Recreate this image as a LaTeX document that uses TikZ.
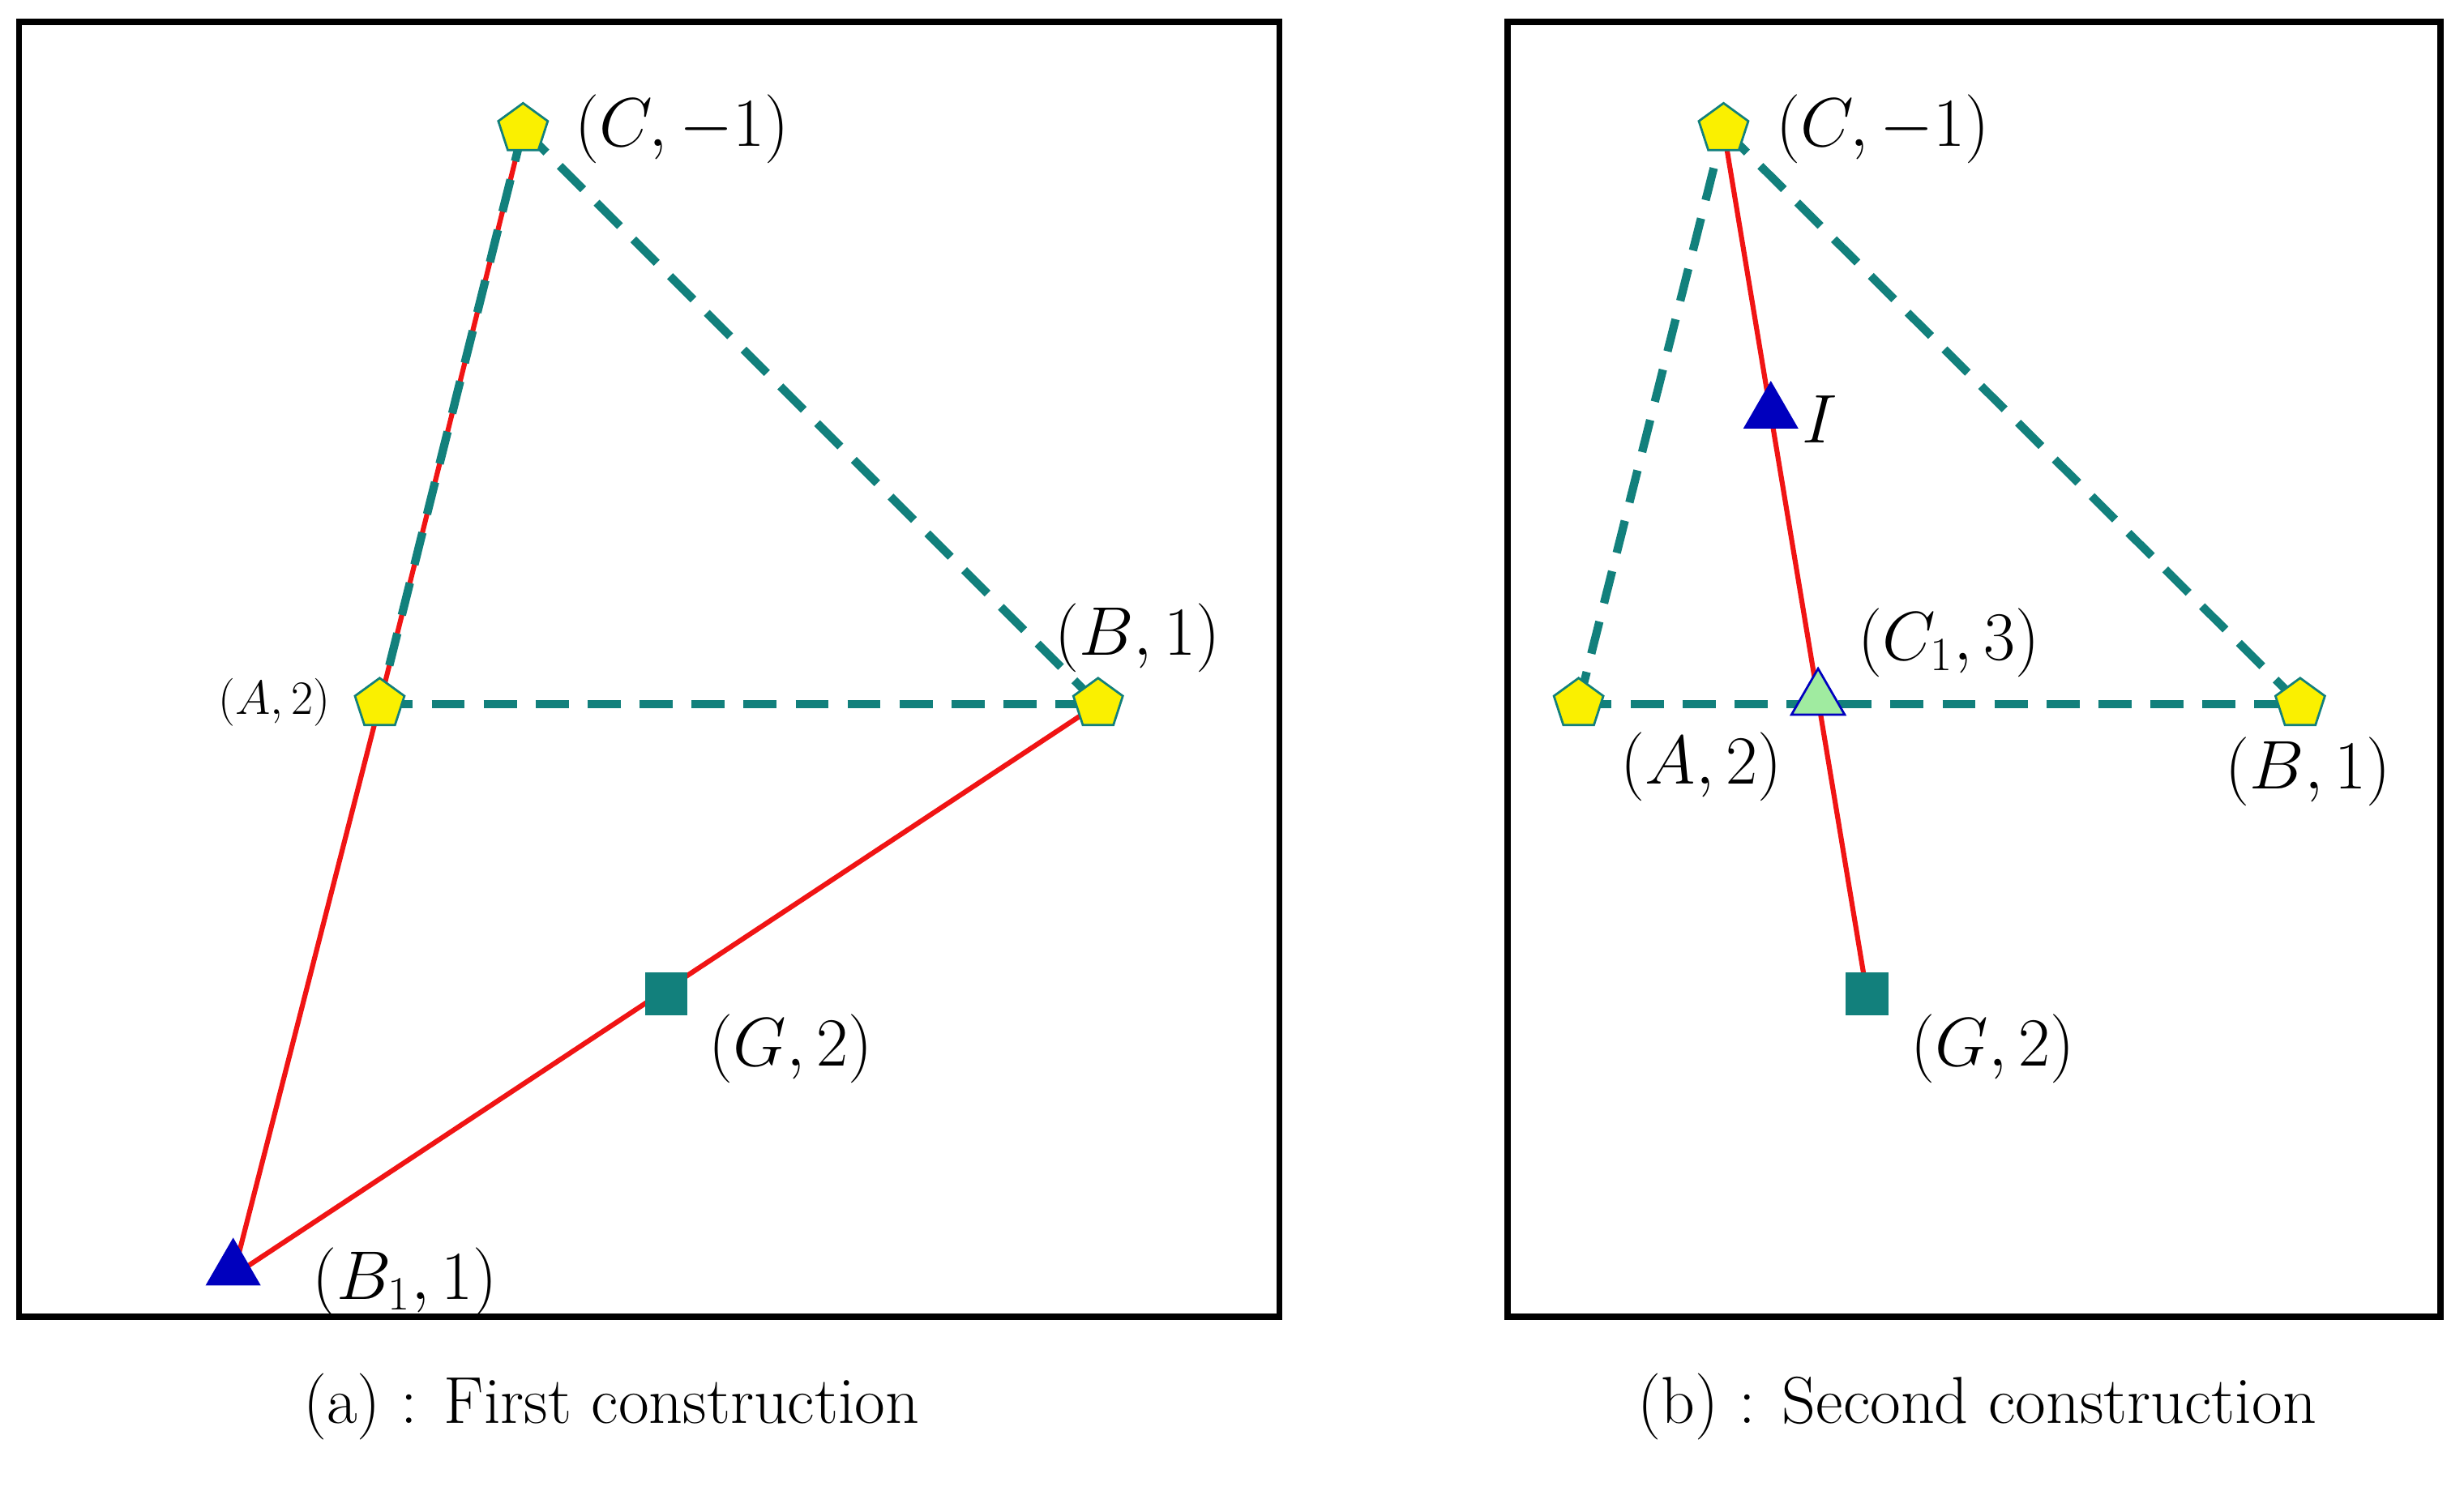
\documentclass[tikz,border=0pt]{standalone}
\usetikzlibrary{shapes.geometric}
\definecolor{tealc}{RGB}{18,128,124}
\definecolor{redc}{RGB}{240,20,20}
\definecolor{bluec}{RGB}{0,0,190}
\definecolor{yelc}{RGB}{250,240,0}
\definecolor{greenc}{RGB}{160,235,160}
\tikzset{
 pent/.style={regular polygon,regular polygon sides=5,fill=yelc,draw=tealc,line width=0.8pt,minimum size=0.66cm,inner sep=0pt},
 tri/.style={regular polygon,regular polygon sides=3,fill=bluec,draw=bluec,minimum size=0.78cm,inner sep=0pt},
 tri2/.style={regular polygon,regular polygon sides=3,fill=greenc,draw=bluec,line width=0.8pt,minimum size=0.78cm,inner sep=0pt},
 sq/.style={rectangle,fill=tealc,minimum size=0.54cm,inner sep=0pt},
 redl/.style={draw=redc,line width=1.8pt},
 dashl/.style={draw=tealc,line width=3pt,dash pattern=on 0.42cm off 0.24cm},
 frame/.style={draw=black,line width=2.2pt},
 lab/.style={font=\fontsize{24}{28}\selectfont,inner sep=0pt},
 captext/.style={font=\fontsize{24}{28}\selectfont,inner sep=0pt}
}
\begin{document}
\begin{tikzpicture}[x=0.02cm,y=-0.02cm]
\useasboundingbox (0,0) rectangle (1564,949);
\draw[frame] (12,14) rectangle (812,836);
\draw[frame] (957,14) rectangle (1549,836);
% left
\coordinate (lC) at (332,82);
\coordinate (lA) at (241,447);
\coordinate (lB) at (697,447);
\coordinate (lG) at (423,631);
\coordinate (lB1) at (148,810);
\draw[redl] (lC) -- (lA) -- (lB1) -- (lB);
\draw[dashl] (lC) -- (lA);
\draw[dashl] (lC) -- (lB);
\draw[dashl] (lA) -- (lB);
\node[pent] (nC) at (lC) {};
\node[pent] (nA) at (lA) {};
\node[pent] (nB) at (lB) {};
\node[sq] (nG) at (lG) {};
\node[tri] (nB1) at (148,806) {};
\node[lab] at (433,82) {$(C,-1)$};
\node[lab] at (722,405) {$(B,1)$};
\node[lab,font=\fontsize{19}{22}\selectfont] at (174,446) {$(A,2)$};
\node[lab] at (502,666) {$(G,2)$};
\node[lab] at (257,814) {$(B_1,1)$};
% right
\coordinate (rC) at (1094,82);
\coordinate (rA) at (1002,447);
\coordinate (rB) at (1460,447);
\coordinate (rG) at (1185,631);
\coordinate (rI) at (1124,262);
\coordinate (rC1) at (1154,444);
\draw[redl] (rC) -- (rG);
\draw[dashl] (rA) -- (rC);
\draw[dashl] (rC) -- (rB);
\draw[dashl] (rA) -- (rB);
\node[pent] (mC) at (rC) {};
\node[pent] (mA) at (rA) {};
\node[pent] (mB) at (rB) {};
\node[sq] (mG) at (rG) {};
\node[tri] (mI) at (rI) {};
\node[tri2] (mC1) at (rC1) {};
\node[lab] at (1195,82) {$(C,-1)$};
\node[lab] at (1155,266) {$I$};
\node[lab] at (1237,408) {$(C_1,3)$};
\node[lab] at (1080,487) {$(A,2)$};
\node[lab] at (1465,490) {$(B,1)$};
\node[lab] at (1265,666) {$(G,2)$};
\node[captext] at (388,893) {(a) : First construction};
\node[captext] at (1255,893) {(b) : Second construction};
\end{tikzpicture}
\end{document}
